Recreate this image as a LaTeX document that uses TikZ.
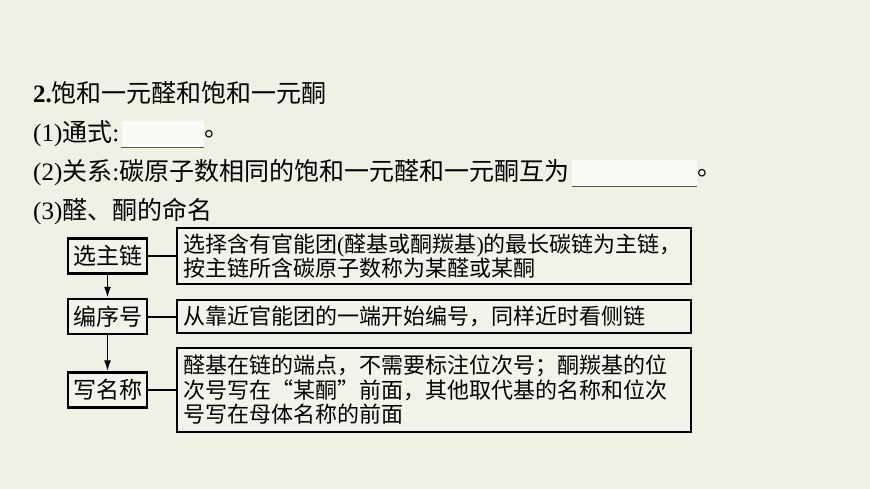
\documentclass[tikz,border=0pt]{standalone}
\usepackage{fontspec}
\setmainfont{Noto Sans CJK SC}
\newfontfamily\lat{Liberation Serif}
\newfontfamily\cjkfw[RawFeature=+fwid]{Noto Sans CJK SC}
\usetikzlibrary{arrows.meta,positioning}
\definecolor{pagebg}{RGB}{238,242,228}
\definecolor{boxbg}{RGB}{241,244,233}
\definecolor{ulgray}{RGB}{85,85,85}
\begin{document}
\begin{tikzpicture}[x=1pt,y=-1pt]
        \tikzstyle{line}=[anchor=base west,inner sep=0pt,font=\fontsize{25}{29}\selectfont]
        \tikzstyle{blank}=[fill=white,fill opacity=0.7,minimum height=26pt,inner sep=0pt]
        \tikzstyle{uline}=[draw=ulgray,line width=1.2pt]
        \tikzstyle{stepbox}=[draw=black,line width=2.4pt,fill=boxbg,minimum width=79pt,minimum height=35pt,inner sep=0pt,font=\fontsize{23}{25}\selectfont]
        \tikzstyle{rulebox}=[draw=black,line width=2.4pt,fill=boxbg,anchor=west,text width=502pt,inner xsep=6pt,inner ysep=0pt,align=left,font=\fontsize{22}{23.5}\selectfont]
        \tikzstyle{link}=[draw,line width=2pt]
        \tikzstyle{edge}=[draw,line width=1.8pt,-{Latex[length=11pt,width=7pt]}]
        \fill[pagebg] (0,0) rectangle (870,489);
        \useasboundingbox (0,0) rectangle (870,489);
        % heading and questions
        \node [line] (t1) at (33,103) {{\lat\bfseries 2.}饱和一元醛和饱和一元酮};
        \node [line] (t2) at (33,142) {{\lat (1)}通式{\lat :}};
        \node [blank,minimum width=82pt,anchor=west] (b1) at ([xshift=2pt]t2.east) {};
        \path[uline] (b1.south west) -- (b1.south east);
        \node [line,anchor=west] (p1) at (b1.east) {。};
        \node [line] (t3) at (33,181) {{\lat (2)}关系{\lat :}碳原子数相同的饱和一元醛和一元酮互为};
        \node [blank,minimum width=125pt,anchor=west] (b2) at ([xshift=2pt]t3.east) {};
        \path[uline] (b2.south west) -- (b2.south east);
        \node [line,anchor=west] (p2) at (b2.east) {。};
        \node [line] (t4) at (33,219) {{\lat (3)}醛、酮的命名};
        % naming steps
        \begin{scope}
            \node [stepbox] (s1) at (107.5,256) {选主链};
            \node [stepbox] (s2) at (107.5,316.5) {编序号};
            \node [stepbox] (s3) at (107.5,390) {写名称};
            \node [rulebox,minimum height=56pt] (r1) at (176,256) {选择含有官能团{\lat (}醛基或酮羰基{\lat )}的最长碳链为主链，\\按主链所含碳原子数称为某醛或某酮};
            \node [rulebox,minimum height=33pt] (r2) at (176,316.5) {从靠近官能团的一端开始编号，同样近时看侧链};
            \node [rulebox,minimum height=84pt,font=\fontsize{22}{24.5}\selectfont] (r3) at (176,390) {醛基在链的端点，不需要标注位次号；酮羰基的位\\次号写在{\cjkfw “}某酮{\cjkfw ”}前面，其他取代基的名称和位次\\号写在母体名称的前面};
            \path[link] (s1) edge (r1);
            \path[link] (s2) edge (r2);
            \path[link] (s3) edge (r3);
            \path[edge] (s1) edge (s2);
            \path[edge] (s2) edge (s3);
        \end{scope}
\end{tikzpicture}
\end{document}
